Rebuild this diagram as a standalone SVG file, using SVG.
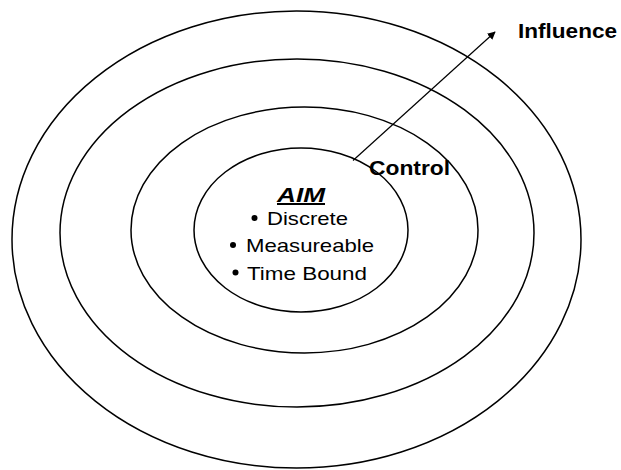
<svg xmlns="http://www.w3.org/2000/svg" width="621" height="470" viewBox="0 0 621 470">
  <style>
    .ring { fill: none; stroke: #000; stroke-width: 1.5; }
    .lbl { font-family: "Liberation Sans", Arial, sans-serif; fill: #000; }
    .bold { font-weight: bold; }
    .item { font-size: 19px; }
    .dot { fill: #000; }
  </style>
  <defs>
    <marker id="arrowhead" viewBox="0 0 10 10" refX="9" refY="5" markerWidth="8" markerHeight="8" markerUnits="userSpaceOnUse" orient="auto">
      <path d="M0,0 L10,5 L0,10 z" fill="#000"/>
    </marker>
  </defs>
  <rect width="621" height="470" fill="#fff"/>

  <!-- concentric zones -->
  <g id="zone-outer">
    <ellipse class="ring" cx="296.5" cy="239.5" rx="284.5" ry="228.5"/>
  </g>
  <g id="zone-influence">
    <ellipse class="ring" cx="297" cy="233" rx="237" ry="174"/>
  </g>
  <g id="zone-control">
    <ellipse class="ring" cx="304.5" cy="230" rx="173.5" ry="123"/>
  </g>
  <g id="aim">
    <ellipse class="ring" cx="301" cy="230" rx="107" ry="82"/>
    <text class="lbl bold" x="277" y="202" font-size="20" font-style="italic" text-decoration="underline" textLength="48" lengthAdjust="spacingAndGlyphs">AIM</text>
    <circle class="dot" cx="254.5" cy="218" r="3"/>
    <text class="lbl item" x="267" y="225" textLength="81" lengthAdjust="spacingAndGlyphs">Discrete</text>
    <circle class="dot" cx="233" cy="245" r="3"/>
    <text class="lbl item" x="246" y="252" textLength="128" lengthAdjust="spacingAndGlyphs">Measureable</text>
    <circle class="dot" cx="235.5" cy="272.5" r="3"/>
    <text class="lbl item" x="247" y="279.5" textLength="120" lengthAdjust="spacingAndGlyphs">Time Bound</text>
  </g>

  <!-- labels -->
  <g id="label-control">
    <text class="lbl bold" x="369" y="175" font-size="20" textLength="81" lengthAdjust="spacingAndGlyphs">Control</text>
  </g>
  <g id="label-influence">
    <text class="lbl bold" x="518" y="37.5" font-size="20" textLength="99" lengthAdjust="spacingAndGlyphs">Influence</text>
  </g>

  <g id="connectors">
    <line x1="353" y1="160.5" x2="495" y2="32" stroke="#000" stroke-width="1.2" marker-end="url(#arrowhead)"/>
  </g>
</svg>
